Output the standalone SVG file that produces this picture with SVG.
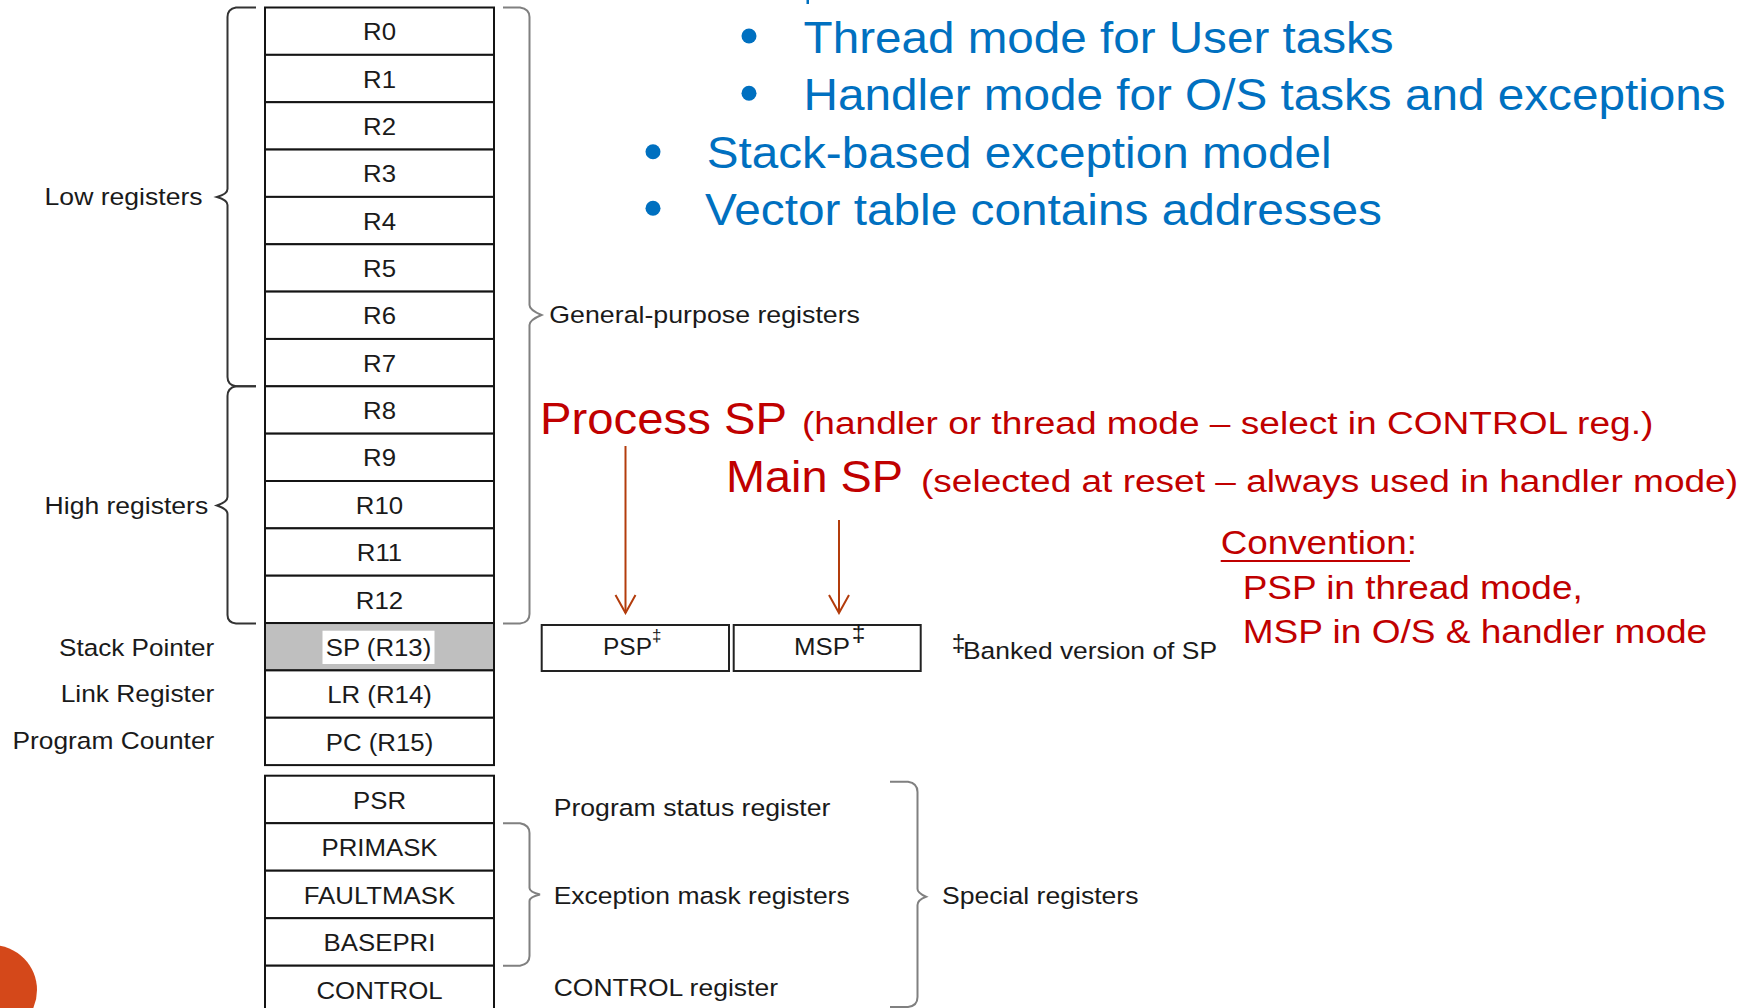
<svg xmlns="http://www.w3.org/2000/svg" width="1756" height="1008" viewBox="0 0 1756 1008">
<defs>
<style>
.reg{fill:#fff;stroke:#141414;stroke-width:2}
.rt{font-family:"Liberation Sans",Arial,sans-serif;font-size:24px;fill:#1a1a1a;text-anchor:middle}
.lbl{font-family:"Liberation Sans",Arial,sans-serif;font-size:24.5px;fill:#1a1a1a}
.blue{font-family:"Liberation Sans",Arial,sans-serif;font-size:45px;fill:#0070c0}
.redbig{font-family:"Liberation Sans",Arial,sans-serif;font-size:44px;fill:#c00000}
.redsm{font-family:"Liberation Sans",Arial,sans-serif;font-size:31px;fill:#c00000}
.redmd{font-family:"Liberation Sans",Arial,sans-serif;font-size:34px;fill:#c00000}
.braceL{fill:none;stroke:#333;stroke-width:2}
.braceR{fill:none;stroke:#808080;stroke-width:2}
.arrow{stroke:#b33c0c;stroke-width:2;fill:none}
</style>
<marker id="vhead" markerUnits="userSpaceOnUse" viewBox="-20 -12 22 24" refX="0" refY="0" markerWidth="22" markerHeight="24" orient="auto">
<path d="M-18,-10 L0,0 L-18,10" fill="none" stroke="#b33c0c" stroke-width="2"/>
</marker>
</defs>
<rect width="1756" height="1008" fill="#fff"/>

<!-- decorative -->
<circle cx="-8" cy="990" r="45" fill="#d4481a"/>
<rect x="806.5" y="0" width="2.5" height="4" fill="#0070c0"/>

<!-- bullet text -->
<g id="bullets">
<circle cx="749" cy="36" r="7.5" fill="#0070c0"/>
<text class="blue" x="803.6" y="52.7" textLength="590" lengthAdjust="spacingAndGlyphs">Thread mode for User tasks</text>
<circle cx="749" cy="93.3" r="7.5" fill="#0070c0"/>
<text class="blue" x="803.6" y="110" textLength="922" lengthAdjust="spacingAndGlyphs">Handler mode for O/S tasks and exceptions</text>
<circle cx="653" cy="151.7" r="7.5" fill="#0070c0"/>
<text class="blue" x="706.7" y="168.3" textLength="625" lengthAdjust="spacingAndGlyphs">Stack-based exception model</text>
<circle cx="653" cy="208.3" r="7.5" fill="#0070c0"/>
<text class="blue" x="705" y="225" textLength="677" lengthAdjust="spacingAndGlyphs">Vector table contains addresses</text>
</g>

<!-- register file -->
<g id="r0"><rect class="reg" x="265" y="7.5" width="229" height="47.35"/><text class="rt" transform="translate(379.5 40.3) scale(1.075 1)">R0</text></g>
<g id="r1"><rect class="reg" x="265" y="54.85" width="229" height="47.35"/><text class="rt" transform="translate(379.5 87.65) scale(1.075 1)">R1</text></g>
<g id="r2"><rect class="reg" x="265" y="102.2" width="229" height="47.35"/><text class="rt" transform="translate(379.5 135) scale(1.075 1)">R2</text></g>
<g id="r3"><rect class="reg" x="265" y="149.55" width="229" height="47.35"/><text class="rt" transform="translate(379.5 182.35) scale(1.075 1)">R3</text></g>
<g id="r4"><rect class="reg" x="265" y="196.9" width="229" height="47.35"/><text class="rt" transform="translate(379.5 229.7) scale(1.075 1)">R4</text></g>
<g id="r5"><rect class="reg" x="265" y="244.25" width="229" height="47.35"/><text class="rt" transform="translate(379.5 277.05) scale(1.075 1)">R5</text></g>
<g id="r6"><rect class="reg" x="265" y="291.6" width="229" height="47.35"/><text class="rt" transform="translate(379.5 324.4) scale(1.075 1)">R6</text></g>
<g id="r7"><rect class="reg" x="265" y="338.95" width="229" height="47.35"/><text class="rt" transform="translate(379.5 371.75) scale(1.075 1)">R7</text></g>
<g id="r8"><rect class="reg" x="265" y="386.3" width="229" height="47.35"/><text class="rt" transform="translate(379.5 419.1) scale(1.075 1)">R8</text></g>
<g id="r9"><rect class="reg" x="265" y="433.65" width="229" height="47.35"/><text class="rt" transform="translate(379.5 466.45) scale(1.075 1)">R9</text></g>
<g id="r10"><rect class="reg" x="265" y="481" width="229" height="47.35"/><text class="rt" transform="translate(379.5 513.8) scale(1.075 1)">R10</text></g>
<g id="r11"><rect class="reg" x="265" y="528.35" width="229" height="47.35"/><text class="rt" transform="translate(379.5 561.15) scale(1.075 1)">R11</text></g>
<g id="r12"><rect class="reg" x="265" y="575.7" width="229" height="47.35"/><text class="rt" transform="translate(379.5 608.5) scale(1.075 1)">R12</text></g>
<g id="sp"><rect class="reg" x="265" y="623.05" width="229" height="47.35" style="fill:#bfbfbf"/><rect x="322.5" y="630.7" width="112" height="33.3" fill="#fff"/><text class="rt" transform="translate(378.5 655.85) scale(1.075 1)">SP (R13)</text></g>
<g id="lr"><rect class="reg" x="265" y="670.4" width="229" height="47.35"/><text class="rt" transform="translate(379.5 703.2) scale(1.075 1)">LR (R14)</text></g>
<g id="pc"><rect class="reg" x="265" y="717.75" width="229" height="47.35"/><text class="rt" transform="translate(379.5 750.55) scale(1.075 1)">PC (R15)</text></g>

<g id="psr"><rect class="reg" x="265" y="775.7" width="229" height="47.5"/><text class="rt" transform="translate(379.5 808.5) scale(1.075 1)">PSR</text></g>
<g id="primask"><rect class="reg" x="265" y="823.2" width="229" height="47.5"/><text class="rt" transform="translate(379.5 856) scale(1.075 1)">PRIMASK</text></g>
<g id="faultmask"><rect class="reg" x="265" y="870.7" width="229" height="47.5"/><text class="rt" transform="translate(379.5 903.5) scale(1.075 1)">FAULTMASK</text></g>
<g id="basepri"><rect class="reg" x="265" y="918.2" width="229" height="47.5"/><text class="rt" transform="translate(379.5 951) scale(1.075 1)">BASEPRI</text></g>
<g id="control"><rect class="reg" x="265" y="965.7" width="229" height="60"/><text class="rt" transform="translate(379.5 998.5) scale(1.075 1)">CONTROL</text></g>

<!-- left labels -->
<g id="left-labels">
<text class="lbl" x="44.6" y="205" textLength="158" lengthAdjust="spacingAndGlyphs">Low registers</text>
<text class="lbl" x="44.6" y="514" textLength="163.6" lengthAdjust="spacingAndGlyphs">High registers</text>
<text class="lbl" x="59" y="656" textLength="155.3" lengthAdjust="spacingAndGlyphs">Stack Pointer</text>
<text class="lbl" x="60.7" y="702" textLength="153.6" lengthAdjust="spacingAndGlyphs">Link Register</text>
<text class="lbl" x="12.5" y="749" textLength="201.8" lengthAdjust="spacingAndGlyphs">Program Counter</text>
</g>

<!-- braces -->
<g id="braces">
<path class="braceL" d="M256,7.5 L236,7.5 Q227.5,9 227.5,17 L227.5,189 Q227.5,194 217,197 Q227.5,200 227.5,205 L227.5,377 Q227.5,385 236,386.3 L256,386.3"/>
<path class="braceL" d="M256,386.3 L236,386.3 Q227.5,388 227.5,396 L227.5,497 Q227.5,502 217,505.5 Q227.5,509 227.5,514 L227.5,615 Q227.5,622.5 236,623.5 L256,623.5"/>
<path class="braceR" d="M503,7.5 L520,7.5 Q529.5,9 529.5,17 L529.5,305 Q529.5,310 541.5,315 Q529.5,320 529.5,325 L529.5,614 Q529.5,622.5 520,623.5 L503,623.5"/>
<path class="braceR" d="M503,823.3 L520,823.3 Q529.5,825 529.5,833 L529.5,888 Q529.5,892 540,894.5 Q529.5,897 529.5,901 L529.5,956 Q529.5,964 520,965.7 L503,965.7"/>
<path class="braceR" d="M890,781.7 L908,781.7 Q917.5,783 917.5,792 L917.5,889 Q917.5,893 926,896.7 Q917.5,900 917.5,905 L917.5,997 Q917.5,1006 908,1007 L890,1007"/>
</g>

<!-- right labels -->
<g id="right-labels">
<text class="lbl" x="549.3" y="322.7" textLength="310.7" lengthAdjust="spacingAndGlyphs">General-purpose registers</text>
<text class="lbl" x="553.7" y="816" textLength="276.7" lengthAdjust="spacingAndGlyphs">Program status register</text>
<text class="lbl" x="553.7" y="904" textLength="296" lengthAdjust="spacingAndGlyphs">Exception mask registers</text>
<text class="lbl" x="553.7" y="996" textLength="224.3" lengthAdjust="spacingAndGlyphs">CONTROL register</text>
<text class="lbl" x="942" y="904" textLength="196.5" lengthAdjust="spacingAndGlyphs">Special registers</text>
</g>

<!-- banked SP -->
<g id="psp"><rect x="541.7" y="625" width="187.3" height="46" fill="#fff" stroke="#222" stroke-width="2"/><text class="lbl" x="603" y="655">PSP<tspan font-size="17" dy="-14">‡</tspan></text></g>
<g id="msp"><rect x="733.7" y="625" width="187" height="46" fill="#fff" stroke="#222" stroke-width="2"/><text class="lbl" x="794" y="655" textLength="56" lengthAdjust="spacingAndGlyphs">MSP</text><text class="lbl" x="851.7" y="641" font-size="17">‡</text></g>
<text class="lbl" x="951.7" y="651" font-size="15">‡<tspan x="963" y="659" font-size="24.5px" textLength="254" lengthAdjust="spacingAndGlyphs">Banked version of SP</tspan></text>

<!-- red annotations -->
<g id="process-sp">
<text class="redbig" x="540" y="433.5" textLength="247" lengthAdjust="spacingAndGlyphs">Process SP</text>
<text class="redsm" x="802" y="433.5" textLength="851.3" lengthAdjust="spacingAndGlyphs">(handler or thread mode – select in CONTROL reg.)</text>
</g>
<g id="main-sp">
<text class="redbig" x="726" y="491.5" textLength="177" lengthAdjust="spacingAndGlyphs">Main SP</text>
<text class="redsm" x="921" y="491.5" textLength="817" lengthAdjust="spacingAndGlyphs">(selected at reset – always used in handler mode)</text>
</g>
<g id="convention">
<text class="redmd" x="1220.7" y="554" textLength="196.3" lengthAdjust="spacingAndGlyphs">Convention:</text>
<line x1="1220.7" y1="561" x2="1410" y2="561" stroke="#c00000" stroke-width="2.2"/>
<text class="redmd" x="1242.7" y="599.3" textLength="340" lengthAdjust="spacingAndGlyphs">PSP in thread mode,</text>
<text class="redmd" x="1242.7" y="643.3" textLength="464.5" lengthAdjust="spacingAndGlyphs">MSP in O/S &amp; handler mode</text>
</g>

<!-- connectors -->
<g id="connectors">
<line class="arrow" x1="625.5" y1="446" x2="625.5" y2="613" marker-end="url(#vhead)"/>
<line class="arrow" x1="839" y1="520" x2="839" y2="613" marker-end="url(#vhead)"/>
</g>
</svg>
